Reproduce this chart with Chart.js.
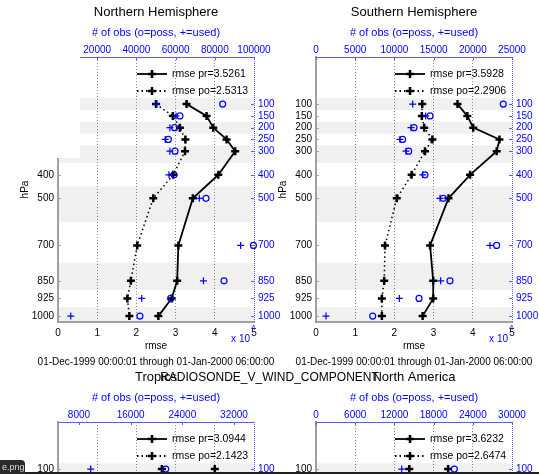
<!DOCTYPE html>
<html>
<head>
<meta charset="utf-8">
<script src="https://cdn.jsdelivr.net/npm/chart.js@4.4.0/dist/chart.umd.min.js"></script>
<style>
  html, body { margin: 0; padding: 0; background: #fff; overflow: hidden; }
  body { width: 539px; height: 474px; position: relative; font-family: "Liberation Sans", Arial, sans-serif; }
  canvas { position: absolute; }
  #nh { left: 0; top: 0; }
  #sh { left: 270px; top: 0; }
  #tr { left: 0; top: 365px; }
  #na { left: 270px; top: 365px; }
  #mask { position: absolute; left: 0; top: 0; width: 80px; height: 158px; background: #fff; }
  #suptitle { position: absolute; left: 0; top: 369px; width: 539px; text-align: center; font-size: 12px; color: #000; line-height: 16px; }
  #tag { position: absolute; left: 0; top: 460px; width: 25px; height: 14px; background: #2b2b2b; border-radius: 0 4px 0 0;
         color: #ddd; font-size: 9px; line-height: 14px; padding-left: 2px; box-sizing: border-box; overflow: hidden; }
  #edge { position: absolute; left: 0; top: 472px; width: 539px; height: 2px; background: #1e1e1e; }
</style>
</head>
<body>
<canvas id="nh" width="290" height="380"></canvas>
<canvas id="sh" width="269" height="380"></canvas>
<canvas id="tr" width="290" height="380"></canvas>
<canvas id="na" width="269" height="380"></canvas>
<div id="mask"></div>
<div id="suptitle">RADIOSONDE_V_WIND_COMPONENT</div>
<div id="edge"></div>
<div id="tag">e.png</div>

<script>
// --- Data ---
const levels = [100, 150, 200, 250, 300, 400, 500, 700, 850, 925, 1000];
const rmseTicks = [0, 1, 2, 3, 4, 5];

// Northern Hemisphere
const nhPr   = [3.28, 3.79, 3.96, 4.30, 4.52, 4.09, 3.44, 3.07, 3.04, 2.90, 2.56];
const nhPo   = [2.50, 2.93, 3.11, 3.25, 3.24, 2.94, 2.43, 2.02, 1.86, 1.77, 1.82];
const nhUsed = [50400, 60200, 57100, 54700, 57100, 56600, 72100, 93200, 74200, 42700, 6500];
const nhPoss = [84000, 62200, 59500, 56300, 59700, 59200, 75500, 99700, 84700, 57500, 41800];
const nhObsTicks = [0, 20000, 40000, 60000, 80000, 100000];

// Southern Hemisphere
const shPr   = [3.61, 3.86, 4.01, 4.68, 4.61, 3.93, 3.38, 2.91, 2.99, 2.99, 2.72];
const shPo   = [2.71, 2.70, 2.76, 2.97, 2.78, 2.44, 2.06, 1.76, 1.74, 1.68, 1.68];
const shUsed = [12330, 13990, 12120, 10710, 11480, 13610, 15820, 22190, 15900, 10630, 1280];
const shPoss = [23890, 14540, 12500, 11050, 11820, 13900, 16240, 23040, 17090, 13140, 7230];
const shObsTicks = [0, 5000, 10000, 15000, 20000, 25000];

// Tropics (only the 100 hPa row is in view)
const trPr   = [4.00, null, null, null, null, null, null, null, null, null, null];
const trPo   = [2.65, null, null, null, null, null, null, null, null, null, null];
const trUsed = [9810, null, null, null, null, null, null, null, null, null, null];
const trPoss = [21430, null, null, null, null, null, null, null, null, null, null];
const trObsTicks = [8000, 16000, 24000, 32000];

// North America (only the 100 hPa row is in view)
const naPr   = [3.37, null, null, null, null, null, null, null, null, null, null];
const naPo   = [2.38, null, null, null, null, null, null, null, null, null, null];
const naUsed = [13120, null, null, null, null, null, null, null, null, null, null];
const naPoss = [21170, null, null, null, null, null, null, null, null, null, null];
const naObsTicks = [0, 6000, 12000, 18000, 24000, 30000];

const dateText = '01-Dec-1999 00:00:01 through 01-Jan-2000 06:00:00';
const obsLabel = '# of obs (o=poss, +=used)';

const FONT = '"Liberation Sans", Arial, sans-serif';
const BLUE = '#0000ff';
const AXBLUE = '#5a5aff';
const AXGRAY = '#a0a0a0';

Chart.defaults.font.family = FONT;
Chart.defaults.font.size = 10;
Chart.defaults.color = '#000';

function pts(vals) {
    return levels.map((lv, i) => ({ x: vals[i], y: lv })).filter(p => p.x !== null);
}

function drawCross(ctx, x, y, r) {
    ctx.beginPath();
    ctx.moveTo(x - r, y); ctx.lineTo(x + r, y);
    ctx.moveTo(x, y - r); ctx.lineTo(x, y + r);
    ctx.stroke();
}

// bands, extra texts, legend, inner ticks
const panelText = {
    id: 'panelText',
    beforeDraw(chart, args, o) {
        const { ctx, chartArea: a, scales: { y } } = chart;
        ctx.save();
        ctx.fillStyle = '#f0f0f0';
        levels.forEach((lv, i) => {
            if (i % 2) return;
            const lo = i === 0 ? lv - (levels[1] - lv) / 2 : (levels[i - 1] + lv) / 2;
            const hi = i === levels.length - 1 ? lv + (lv - levels[i - 1]) / 2 : (lv + levels[i + 1]) / 2;
            const y0 = Math.max(y.getPixelForValue(lo), a.top);
            const y1 = Math.min(y.getPixelForValue(hi), a.bottom);
            ctx.fillRect(a.left, y0, a.right - a.left, y1 - y0);
        });
        ctx.restore();
    },
    afterDraw(chart, args, o) {
        const { ctx, chartArea: a, scales: { x, x2, y } } = chart;
        const cx = (a.left + a.right) / 2;
        ctx.save();

        // right axis (dotted blue) and inner ticks
        ctx.strokeStyle = AXBLUE;
        ctx.lineWidth = 1;
        ctx.setLineDash([1, 1]);
        ctx.beginPath();
        ctx.moveTo(a.right + 0.5, a.top); ctx.lineTo(a.right + 0.5, a.bottom);
        ctx.stroke();
        ctx.setLineDash([]);
        levels.forEach(lv => {
            const py = Math.round(y.getPixelForValue(lv)) + 0.5;
            ctx.strokeStyle = AXBLUE;
            ctx.beginPath(); ctx.moveTo(a.right - 3, py); ctx.lineTo(a.right, py); ctx.stroke();
            ctx.strokeStyle = AXGRAY;
            ctx.beginPath(); ctx.moveTo(a.left, py); ctx.lineTo(a.left + 3, py); ctx.stroke();
        });
        o.obsTicks.forEach(v => {
            const px = Math.round(x2.getPixelForValue(v)) + 0.5;
            ctx.strokeStyle = AXBLUE;
            ctx.beginPath(); ctx.moveTo(px, a.top); ctx.lineTo(px, a.top + 3); ctx.stroke();
        });

        ctx.textAlign = 'center';
        ctx.textBaseline = 'middle';
        ctx.fillStyle = '#000';
        ctx.font = '13px ' + FONT;
        ctx.fillText(o.title, cx, a.top - 45);

        ctx.fillStyle = BLUE;
        ctx.font = '11px ' + FONT;
        ctx.fillText(obsLabel, cx, a.top - 24);

        ctx.fillStyle = '#000';
        ctx.font = '10px ' + FONT;
        ctx.fillText('rmse', cx, a.bottom + 24);
        ctx.fillText(dateText, cx, a.bottom + 40);

        // exponent of obs axis
        ctx.fillStyle = BLUE;
        ctx.textAlign = 'right';
        ctx.fillText('x 10', a.right - 4, a.bottom + 17);
        ctx.font = '8px ' + FONT;
        ctx.textAlign = 'left';
        ctx.fillText('4', a.right - 3, a.bottom + 6);

        // y axis title
        ctx.save();
        ctx.translate(a.left - 33, (a.top + a.bottom) / 2);
        ctx.rotate(-Math.PI / 2);
        ctx.fillStyle = '#000';
        ctx.font = '10px ' + FONT;
        ctx.textAlign = 'center';
        ctx.fillText('hPa', 0, 0);
        ctx.restore();

        // legend
        const lx0 = a.left + 79, lx1 = a.left + 109, lxm = (lx0 + lx1) / 2;
        const ly1 = a.top + 17, ly2 = a.top + 34;
        ctx.strokeStyle = '#000';
        ctx.lineWidth = 1.8;
        ctx.beginPath(); ctx.moveTo(lx0, ly1); ctx.lineTo(lx1, ly1); ctx.stroke();
        ctx.setLineDash([1.5, 3]);
        ctx.beginPath(); ctx.moveTo(lx0, ly2); ctx.lineTo(lx1, ly2); ctx.stroke();
        ctx.setLineDash([]);
        ctx.lineWidth = 2.5;
        drawCross(ctx, lxm, ly1, 4);
        drawCross(ctx, lxm, ly2, 4);
        ctx.fillStyle = '#000';
        ctx.font = '10.5px ' + FONT;
        ctx.textAlign = 'left';
        ctx.fillText(o.prText, a.left + 114, ly1);
        ctx.fillText(o.poText, a.left + 114, ly2);

        ctx.restore();
    }
};

function makePanel(id, p) {
    const canvas = document.getElementById(id);
    const H = canvas.height;
    const W = canvas.width;
    return new Chart(canvas, {
        type: 'scatter',
        data: {
            datasets: [
                {
                    data: pts(p.used), xAxisID: 'x2', yAxisID: 'y', showLine: false,
                    pointStyle: 'cross', pointRadius: 3.5, pointBorderWidth: 1.2,
                    pointBorderColor: BLUE, pointBackgroundColor: BLUE, clip: false
                },
                {
                    data: pts(p.poss), xAxisID: 'x2', yAxisID: 'y', showLine: false,
                    pointStyle: 'circle', pointRadius: 3, pointBorderWidth: 1.2,
                    pointBorderColor: BLUE, pointBackgroundColor: 'rgba(0,0,0,0)', clip: false
                },
                {
                    data: pts(p.pr), xAxisID: 'x', yAxisID: 'y', showLine: true,
                    borderColor: '#000', borderWidth: 1.8,
                    pointStyle: 'cross', pointRadius: 4, pointBorderWidth: 2.5,
                    pointBorderColor: '#000', clip: false
                },
                {
                    data: pts(p.po), xAxisID: 'x', yAxisID: 'y', showLine: true,
                    borderColor: '#000', borderWidth: 1.5, borderDash: [1.5, 3],
                    pointStyle: 'cross', pointRadius: 4, pointBorderWidth: 2.5,
                    pointBorderColor: '#000', clip: false
                }
            ]
        },
        options: {
            responsive: false,
            animation: false,
            events: [],
            layout: { padding: 0 },
            plugins: {
                legend: { display: false },
                tooltip: { enabled: false },
                panelText: { title: p.title, prText: p.prText, poText: p.poText, obsTicks: p.obsTicks }
            },
            scales: {
                x: {
                    type: 'linear', position: 'bottom', min: 0, max: 5,
                    afterBuildTicks: s => { s.ticks = rmseTicks.map(v => ({ value: v })); },
                    afterFit: s => { s.height = H - p.bottom; },
                    ticks: { padding: 5, maxRotation: 0, autoSkip: false, color: '#000', callback: v => String(v) },
                    grid: {
                        drawTicks: false,
                        lineWidth: 1,
                        color: c => (c.tick && (c.tick.value === 0 || c.tick.value === 5)) ? 'rgba(0,0,0,0)' : '#8a8a8a'
                    },
                    border: { color: AXGRAY, width: 2, dash: [1, 2] }
                },
                x2: {
                    type: 'linear', position: 'top', min: p.obsMin, max: p.obsMax,
                    afterBuildTicks: s => { s.ticks = p.obsTicks.map(v => ({ value: v })); },
                    afterFit: s => { s.height = p.top; },
                    ticks: { padding: 1, maxRotation: 0, autoSkip: false, color: BLUE, callback: v => String(v) },
                    grid: { drawOnChartArea: false, drawTicks: false },
                    border: { color: AXBLUE, width: 1 }
                },
                y: {
                    type: 'linear', position: 'left', min: -100, max: 1025, reverse: true,
                    afterBuildTicks: s => { s.ticks = levels.map(v => ({ value: v })); },
                    afterFit: s => { s.width = p.left; },
                    ticks: { padding: 4, autoSkip: false, color: '#000', callback: v => String(v) },
                    grid: { drawOnChartArea: false, drawTicks: false },
                    border: { color: AXGRAY, width: 2 }
                },
                y2: {
                    type: 'linear', position: 'right', min: -100, max: 1025, reverse: true,
                    afterBuildTicks: s => { s.ticks = levels.map(v => ({ value: v })); },
                    afterFit: s => { s.width = W - p.right; },
                    ticks: { padding: 4, autoSkip: false, color: BLUE, callback: v => String(v) },
                    grid: { drawOnChartArea: false, drawTicks: false },
                    border: { display: false }
                }
            }
        },
        plugins: [panelText]
    });
}

// plot area edges in each canvas: left, right, top, bottom
makePanel('nh', {
    title: 'Northern Hemisphere', prText: 'rmse pr=3.5261', poText: 'rmse po=2.5313',
    pr: nhPr, po: nhPo, used: nhUsed, poss: nhPoss, obsTicks: nhObsTicks, obsMin: 0, obsMax: 100000,
    left: 58, right: 254, top: 57, bottom: 322
});
makePanel('sh', {
    title: 'Southern Hemisphere', prText: 'rmse pr=3.5928', poText: 'rmse po=2.2906',
    pr: shPr, po: shPo, used: shUsed, poss: shPoss, obsTicks: shObsTicks, obsMin: 0, obsMax: 25000,
    left: 46, right: 242, top: 57, bottom: 322
});
makePanel('tr', {
    title: 'Tropics', prText: 'rmse pr=3.0944', poText: 'rmse po=2.1423',
    pr: trPr, po: trPo, used: trUsed, poss: trPoss, obsTicks: trObsTicks, obsMin: 4750, obsMax: 35100,
    left: 58, right: 254, top: 57, bottom: 322
});
makePanel('na', {
    title: 'North America', prText: 'rmse pr=3.6232', poText: 'rmse po=2.6474',
    pr: naPr, po: naPo, used: naUsed, poss: naPoss, obsTicks: naObsTicks, obsMin: 0, obsMax: 30000,
    left: 46, right: 242, top: 57, bottom: 322
});
</script>
</body>
</html>
